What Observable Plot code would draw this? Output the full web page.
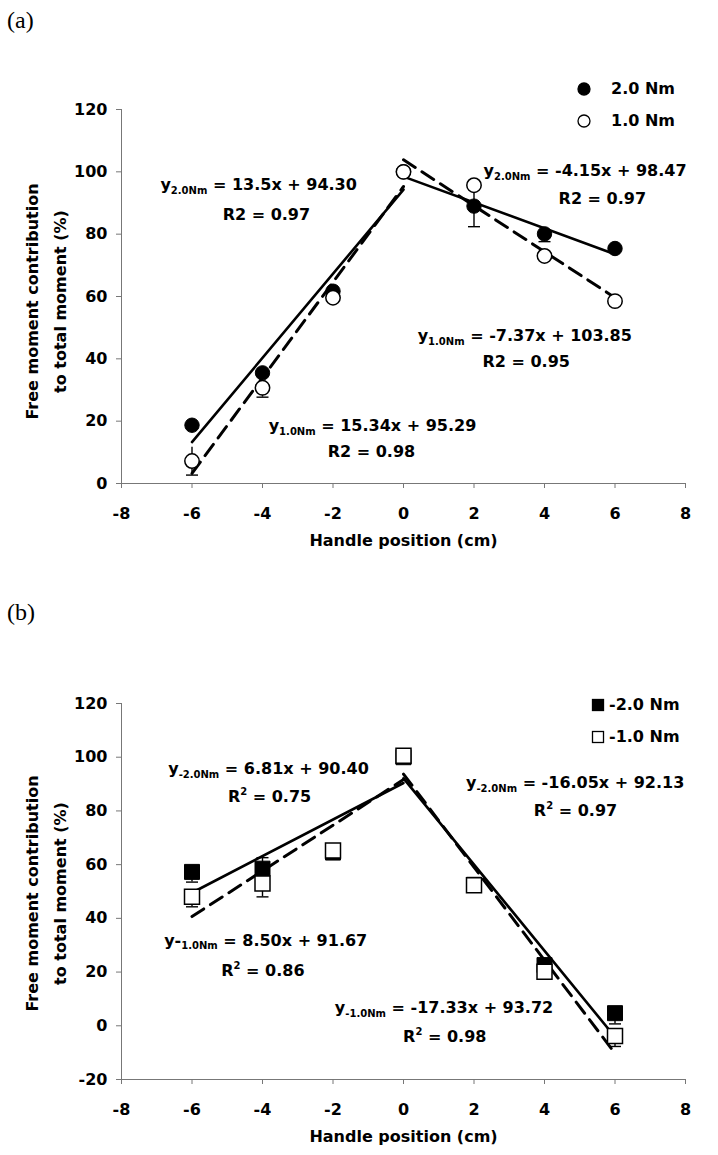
<!DOCTYPE html>
<html><head><meta charset="utf-8">
<script src="https://cdn.jsdelivr.net/npm/d3@7"></script>
<script src="https://cdn.jsdelivr.net/npm/@observablehq/plot@0.6"></script>
<style>
html,body{margin:0;padding:0;background:#fff;}
#wrap{position:relative;width:718px;height:1155px;overflow:hidden;background:#fff;}
.panel{position:absolute;left:0;}
.plabel{position:absolute;z-index:5;font-family:"Liberation Serif","Times New Roman",serif;font-size:24px;line-height:24px;color:#000;}
.legtxt{position:absolute;z-index:5;font-family:"DejaVu Sans",sans-serif;font-weight:bold;font-size:16px;line-height:16px;color:#000;white-space:nowrap;}
.legsym{position:absolute;z-index:5;}
</style></head>
<body>
<div id="wrap">
  <div class="plabel" style="left:7px;top:8px;">(a)</div>
  <div class="plabel" style="left:7px;top:600px;">(b)</div>
</div>
<script>
// ---------- data ----------
const xPos = [-6, -4, -2, 0, 2, 4, 6];
const xTicks = [-8, -6, -4, -2, 0, 2, 4, 6, 8];
const yTicksA = [0, 20, 40, 60, 80, 100, 120];
const yTicksB = [-20, 0, 20, 40, 60, 80, 100, 120];

// Panel (a): positive moments
const a20 = [18.7, 35.5, 61.7, 100, 89.0, 80.1, 75.4];
const a20Lo = [null, null, null, null, 82.4, 77.6, null];
const a20Hi = [null, null, null, null, null, null, null];
const a10 = [7.2, 30.7, 59.6, 100, 95.7, 73.0, 58.5];
const a10Lo = [2.7, 27.7, null, null, 89.5, null, null];
const a10Hi = [11.6, null, null, null, null, null, null];

const fitXLeft = [-6, 0];
const fitXRight = [0, 6];
const a20FitL = [13.3, 94.3];
const a20FitR = [98.47, 73.57];
const a10FitL = [3.25, 95.29];
const a10FitR = [103.85, 59.63];

const annAText = ["y_{2.0Nm} = 13.5x + 94.30", "R2 = 0.97",
                  "y_{2.0Nm} = -4.15x + 98.47", "R2 = 0.97",
                  "y_{1.0Nm} = -7.37x + 103.85", "R2 = 0.95",
                  "y_{1.0Nm} = 15.34x + 95.29", "R2 = 0.98"];
const annAX = [-4.11, -3.89, 5.15, 5.64, 3.44, 3.48, -0.88, -0.91];
const annAY = [95.9, 86.2, 100.4, 91.3, 47.4, 38.9, 18.5, 10.2];

// Panel (b): negative moments
const b20 = [57.3, 58.5, 64.5, 100, 52.5, 22.6, 4.7];
const b20Lo = [53.5, null, null, null, null, null, 0.7];
const b20Hi = [null, 62.6, null, null, null, null, null];
const b10 = [48.0, 53.0, 65.3, 100.5, 52.3, 20.1, -3.8];
const b10Lo = [44.3, 48.0, null, null, null, null, -7.7];
const b10Hi = [null, null, null, null, null, null, null];

const b20FitL = [49.54, 90.40];
const b20FitR = [92.13, -4.17];
const b10FitL = [40.67, 91.67];
const b10FitR = [93.72, -10.26];

const annBText = ["y_{-2.0Nm} = 6.81x + 90.40", "R^{2} = 0.75",
                  "y_{-2.0Nm} = -16.05x + 92.13", "R^{2} = 0.97",
                  "y-_{1.0Nm} = 8.50x + 91.67", "R^{2} = 0.86",
                  "y_{-1.0Nm} = -17.33x + 93.72", "R^{2} = 0.98"];
const annBX = [-3.83, -3.80, 4.87, 4.88, -3.91, -3.99, 1.15, 1.17];
const annBY = [95.6, 85.1, 90.6, 80.1, 31.8, 20.6, 6.6, -4.2];

const yTitle = "Free moment contribution\nto total moment (%)";
const xTitle = "Handle position (cm)";

// ---------- helpers ----------
const capSymbol = {draw(ctx, size) { const w = Math.sqrt(size / Math.PI); ctx.moveTo(-w, 0); ctx.lineTo(w, 0); }};
const squareSymbol = {draw(ctx, size) { const r = Math.sqrt(size / Math.PI); ctx.rect(-r, -r, 2 * r, 2 * r); }};

function pts(vals) { return xPos.map((x, i) => ({x, y: vals[i]})); }
function errs(vals, lo, hi) {
  return xPos.map((x, i) => ({x, y1: lo[i] ?? vals[i], y2: hi[i] ?? vals[i]}))
             .filter(d => d.y1 !== d.y2);
}
function caps(lo, hi) {
  const out = [];
  xPos.forEach((x, i) => { if (lo[i] != null) out.push({x, y: lo[i]}); if (hi[i] != null) out.push({x, y: hi[i]}); });
  return out;
}
function fit(left, right) {
  return [
    {x: fitXLeft[0], y: left[0], seg: "L"}, {x: fitXLeft[1], y: left[1], seg: "L"},
    {x: fitXRight[0], y: right[0], seg: "R"}, {x: fitXRight[1], y: right[1], seg: "R"}
  ];
}

function richText(svg) {
  d3.select(svg).selectAll("g.annot text, g[aria-label='annot'] text").each(function() {
    const el = d3.select(this);
    const s = el.text();
    if (!/[_^]\{/.test(s)) return;
    el.text(null);
    const re = /([_^])\{([^}]*)\}/g;
    let last = 0, m, cur = 0;
    const add = (str, off, size) => {
      const t = el.append("tspan").attr("dy", off - cur).text(str);
      if (size) t.attr("font-size", size);
      cur = off;
    };
    while ((m = re.exec(s))) {
      if (m.index > last) add(s.slice(last, m.index), 0, null);
      if (m[1] === "_") add(m[2], 4, 10); else add(m[2], -7, 10);
      last = re.lastIndex;
    }
    if (last < s.length) add(s.slice(last), 0, null);
  });
}

function panel({height, marginTop, marginBottom, yDomain, yTicks, filled, filledLo, filledHi, open, openLo, openHi,
                fitFilled, fitOpen, annText, annX, annY, symbol, r, titleDy}) {
  const ann = annText.map((t, i) => ({t, x: annX[i], y: annY[i]}));
  const errData = errs(filled, filledLo, filledHi).concat(errs(open, openLo, openHi));
  const capData = caps(filledLo, filledHi).concat(caps(open, openLo, openHi));
  const svg = Plot.plot({
    width: 718, height, marginTop, marginBottom, marginLeft: 121, marginRight: 33,
    x: {domain: [-8, 8]},
    y: {domain: yDomain},
    style: {fontFamily: "DejaVu Sans, sans-serif", fontSize: "16px", fontWeight: "bold", background: "transparent", color: "black", overflow: "visible"},
    marks: [
      Plot.ruleX([-8], {stroke: "#777", strokeWidth: 1}),
      Plot.ruleY([yDomain[0]], {stroke: "#777", strokeWidth: 1}),
      Plot.axisX({ticks: xTicks, tickSize: 5, tickPadding: 19, tickFormat: d => String(d), label: null, stroke: "#777", fill: "black", fontSize: 16, fontWeight: "bold"}),
      Plot.axisY({ticks: yTicks, tickSize: 5, tickPadding: 9, tickFormat: d => String(d), label: null, stroke: "#777", fill: "black", fontSize: 16, fontWeight: "bold"}),
      Plot.line(fitOpen, {x: "x", y: "y", z: "seg", stroke: "black", strokeWidth: 3, strokeDasharray: "14,8"}),
      Plot.line(fitFilled, {x: "x", y: "y", z: "seg", stroke: "black", strokeWidth: 2.6}),
      Plot.ruleX(errData, {x: "x", y1: "y1", y2: "y2", stroke: "black", strokeWidth: 1.4}),
      Plot.dot(capData, {x: "x", y: "y", symbol: capSymbol, r: 6, stroke: "black", strokeWidth: 1.4, fill: "none"}),
      Plot.dot(pts(filled), {x: "x", y: "y", symbol, r, fill: "black", stroke: "black", strokeWidth: 1}),
      Plot.dot(pts(open), {x: "x", y: "y", symbol, r, fill: "white", stroke: "black", strokeWidth: 1.5}),
      Plot.text(ann, {x: "x", y: "y", text: "t", fontSize: 16, fontWeight: "bold", fill: "black", className: "annot", ariaLabel: "annot"}),
      Plot.text([yTitle], {frameAnchor: "left", textAnchor: "middle", lineAnchor: "middle", rotate: -90, dx: -78, dy: titleDy, lineHeight: 1.75, fontSize: 16, fontWeight: "bold", fill: "black"}),
      Plot.text([xTitle], {frameAnchor: "bottom", textAnchor: "middle", lineAnchor: "middle", dy: 57, fontSize: 16, fontWeight: "bold", fill: "black"})
    ]
  });
  richText(svg);
  return svg;
}

const wrap = document.getElementById("wrap");

const svgA = panel({
  height: 575, marginTop: 109, marginBottom: 92, yDomain: [0, 120], yTicks: yTicksA,
  filled: a20, filledLo: a20Lo, filledHi: a20Hi, open: a10, openLo: a10Lo, openHi: a10Hi,
  fitFilled: fit(a20FitL, a20FitR), fitOpen: fit(a10FitL, a10FitR),
  annText: annAText, annX: annAX, annY: annAY, symbol: "circle", r: 7.2, titleDy: 5
});
svgA.classList.add("panel"); svgA.style.top = "0px";
wrap.appendChild(svgA);

const svgB = panel({
  height: 560, marginTop: 108, marginBottom: 76, yDomain: [-20, 120], yTicks: yTicksB,
  filled: b20, filledLo: b20Lo, filledHi: b20Hi, open: b10, openLo: b10Lo, openHi: b10Hi,
  fitFilled: fit(b20FitL, b20FitR), fitOpen: fit(b10FitL, b10FitR),
  annText: annBText, annX: annBX, annY: annBY, symbol: squareSymbol, r: 7.5, titleDy: 2
});
svgB.classList.add("panel"); svgB.style.top = "595px";
wrap.appendChild(svgB);

// ---------- legends ----------
const legA = ["2.0 Nm", "1.0 Nm"];
const legB = ["-2.0 Nm", "-1.0 Nm"];
function legendItem(kind, filledSym, cx, cy, tx, label) {
  const s = d3.create("svg").attr("class", "legsym").attr("width", 16).attr("height", 16)
    .style("left", (cx - 8) + "px").style("top", (cy - 8) + "px");
  if (kind === "circle") s.append("circle").attr("cx", 8).attr("cy", 8).attr("r", 6)
    .attr("fill", filledSym ? "black" : "white").attr("stroke", "black").attr("stroke-width", 1.3);
  else s.append("rect").attr("x", 2.5).attr("y", 2.5).attr("width", 11).attr("height", 11)
    .attr("fill", filledSym ? "black" : "white").attr("stroke", "black").attr("stroke-width", 1.3);
  wrap.appendChild(s.node());
  const t = document.createElement("div");
  t.className = "legtxt"; t.textContent = label;
  t.style.left = tx + "px"; t.style.top = (cy - 8) + "px";
  wrap.appendChild(t);
}
legendItem("circle", true, 584, 89, 611, legA[0]);
legendItem("circle", false, 584, 121, 611, legA[1]);
legendItem("square", true, 598, 705, 609, legB[0]);
legendItem("square", false, 598, 737, 609, legB[1]);
</script>
</body></html>
